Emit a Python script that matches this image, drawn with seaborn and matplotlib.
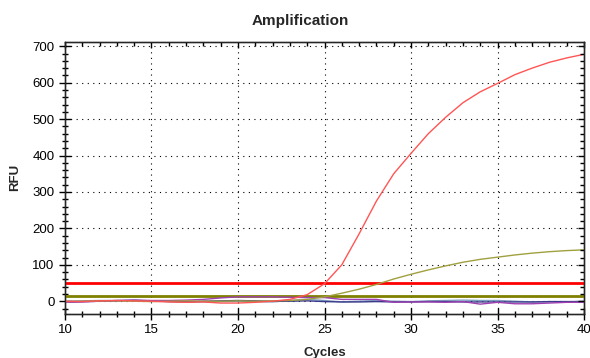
import matplotlib
matplotlib.use("Agg")
import matplotlib.pyplot as plt
import seaborn as sns
import pandas as pd
from matplotlib.ticker import MultipleLocator

cycles = list(range(10, 41))

red_well = [0, -1, 1, 2, 1, 0, -2, -3, -2, -5, -5, -3, 0, 5, 18, 48, 100, 185, 275, 350,
            406, 460, 505, 545, 575, 598, 622, 640, 656, 668, 678]
olive_well = [-1, 0, 1, 1, 0, -1, 0, 1, 0, 0, 1, 0, 1, 2, 5, 12, 22, 33, 46, 61,
              74, 86, 97, 107, 115, 121, 127, 132, 136, 139, 141]
purple_well = [-3, -2, 0, 2, 3, 2, 2, 3, 5, 9, 12, 12, 12, 11, 10, 10, 5, 5, 5, -3,
               -2, -2, -3, -1, -8, -3, -7, -7, -5, -3, -3]
blue_well = [0, 1, 2, 2, 3, 1, 0, -1, -2, -1, 0, -1, -2, 2, 5, 2, -2, 0, 2, 0,
             -1, 1, 2, 3, 2, 2, 0, -2, -2, -2, 0]
navy_well = [-2, -1, 0, 1, 2, 1, -1, -2, 0, 1, 2, 1, 0, 0, 1, -1, -2, -2, -1, -2,
             -2, -1, -1, -2, -2, -2, -2, -2, -1, -1, -1]

thresholds = {"red": 50, "olive": 13}

series = {
    "blue": blue_well,
    "navy": navy_well,
    "purple": purple_well,
    "olive": olive_well,
    "red": red_well,
}
colors = {
    "blue": "#7f9fbf",
    "navy": "#3a3a8c",
    "purple": "#a040b0",
    "olive": "#a0a040",
    "red": "#ff5555",
}

df = pd.DataFrame(
    [(name, c, v) for name, vals in series.items() for c, v in zip(cycles, vals)],
    columns=["well", "Cycles", "RFU"],
)

sns.set_style("ticks")
plt.rcParams["font.family"] = ["Liberation Sans", "DejaVu Sans"]

fig = plt.figure(figsize=(5.9, 3.58), dpi=100)
ax = fig.add_axes([0.110, 0.123, 0.880, 0.760])

ax.axhline(thresholds["red"], color="#ff0000", linewidth=2, zorder=3)
ax.axhline(thresholds["olive"], color="#808000", linewidth=2, zorder=3)

sns.lineplot(data=df, x="Cycles", y="RFU", hue="well", palette=colors,
             linewidth=1, legend=False, ax=ax, zorder=4)

ax.set_xlim(10, 40)
ax.set_ylim(-35, 712)
ax.xaxis.set_major_locator(MultipleLocator(5))
ax.xaxis.set_minor_locator(MultipleLocator(1))
ax.yaxis.set_major_locator(MultipleLocator(100))
ax.yaxis.set_minor_locator(MultipleLocator(20))

ax.grid(True, which="major", color="black", linestyle=(0, (1, 4)), linewidth=0.8)
ax.tick_params(which="both", top=False, right=False, labelsize=9.5, colors="black")
ax.tick_params(which="major", direction="inout", length=8, width=1)
ax.tick_params(which="minor", direction="inout", length=5, width=1)
for s in ax.spines.values():
    s.set_color("black")
    s.set_linewidth(1)

# inward ticks on the top and right edges
top = ax.twiny()
top.set_xlim(ax.get_xlim())
top.xaxis.set_major_locator(MultipleLocator(5))
top.xaxis.set_minor_locator(MultipleLocator(1))
top.tick_params(which="both", direction="in", labeltop=False, colors="black", width=1)
top.tick_params(which="major", length=4)
top.tick_params(which="minor", length=3)

right = ax.twinx()
right.set_ylim(ax.get_ylim())
right.yaxis.set_major_locator(MultipleLocator(100))
right.yaxis.set_minor_locator(MultipleLocator(20))
right.tick_params(which="both", direction="in", labelright=False, colors="black", width=1)
right.tick_params(which="major", length=4)
right.tick_params(which="minor", length=3)

ax.set_title("Amplification", fontsize=11, fontweight="bold", pad=12, x=0.453)
ax.set_xlabel("Cycles", fontsize=9.5, fontweight="bold", labelpad=8)
ax.set_ylabel("RFU", fontsize=9.5, fontweight="bold", labelpad=8)

fig.savefig("out.png", dpi=100)
